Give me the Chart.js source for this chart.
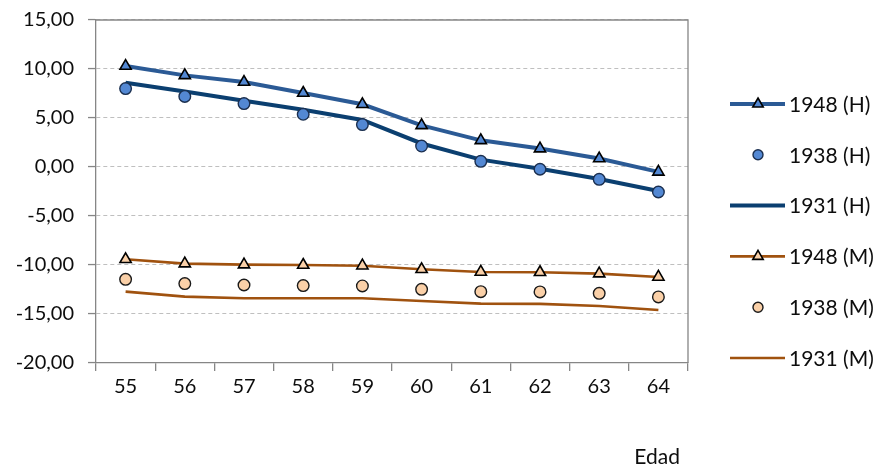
<!DOCTYPE html>
<html>
<head>
<meta charset="utf-8">
<script src="https://cdn.jsdelivr.net/npm/chart.js@4.4.1/dist/chart.umd.min.js"></script>
<style>
  html, body { margin: 0; padding: 0; background: #ffffff; }
  #wrap { width: 879px; height: 467px; }
</style>
</head>
<body>
<div id="wrap"><canvas id="c" width="879" height="467"></canvas></div>
<script>
const categories = ['55', '56', '57', '58', '59', '60', '61', '62', '63', '64'];
const seriesNames = ['1948 (H)', '1938 (H)', '1931 (H)', '1948 (M)', '1938 (M)', '1931 (M)'];
const h1948 = [10.3, 9.35, 8.67, 7.55, 6.4, 4.25, 2.72, 1.88, 0.86, -0.5];
const h1938 = [8.0, 7.2, 6.47, 5.38, 4.33, 2.14, 0.58, -0.23, -1.26, -2.55];
const h1931 = [8.6, 7.7, 6.75, 5.85, 4.8, 2.4, 0.75, -0.17, -1.22, -2.45];
const m1948 = [-9.42, -9.86, -9.96, -10.0, -10.07, -10.44, -10.71, -10.74, -10.88, -11.22];
const m1938 = [-11.46, -11.9, -12.04, -12.1, -12.14, -12.48, -12.72, -12.75, -12.89, -13.26];
const m1931 = [-12.72, -13.23, -13.4, -13.4, -13.4, -13.67, -13.94, -13.97, -14.18, -14.59];
const yTicks = [15, 10, 5, 0, -5, -10, -15, -20];
const xTitle = 'Edad';

const FONT = 'Lato, "Liberation Sans", sans-serif';
const BLUE_LINE = '#2B5A95';
const BLUE_DARK = '#0B3F70';
const BLUE_FILL = '#5388D3';
const BROWN = '#A0520F';
const PEACH = '#FAD0A8';
const AXIS = '#868686';
const TEXT = '#0d0d0d';

const datasets = [
  { label: seriesNames[0], data: h1948, borderColor: BLUE_LINE, borderWidth: 4,
    pointStyle: 'triangle', pointRadius: 6.5, pointBackgroundColor: BLUE_FILL,
    pointBorderColor: '#000000', pointBorderWidth: 1.6, showLine: true },
  { label: seriesNames[1], data: h1938, borderColor: '#1B365D', showLine: false,
    pointStyle: 'circle', pointRadius: 5.8, pointBackgroundColor: BLUE_FILL,
    pointBorderColor: '#1B2F4F', pointBorderWidth: 1.4 },
  { label: seriesNames[2], data: h1931, borderColor: BLUE_DARK, borderWidth: 4,
    pointRadius: 0, showLine: true },
  { label: seriesNames[3], data: m1948, borderColor: BROWN, borderWidth: 2.6,
    pointStyle: 'triangle', pointRadius: 6.5, pointBackgroundColor: PEACH,
    pointBorderColor: '#000000', pointBorderWidth: 1.6, showLine: true },
  { label: seriesNames[4], data: m1938, borderColor: '#000000', showLine: false,
    pointStyle: 'circle', pointRadius: 5.8, pointBackgroundColor: PEACH,
    pointBorderColor: '#1a1a1a', pointBorderWidth: 1.4 },
  { label: seriesNames[5], data: m1931, borderColor: BROWN, borderWidth: 2.6,
    pointRadius: 0, showLine: true }
];
datasets.forEach(d => { d.tension = 0; d.fill = false; d.pointHoverRadius = d.pointRadius; });

const decor = {
  id: 'decor',
  beforeDatasetsDraw(chart) {
    const { ctx, chartArea: a } = chart;
    ctx.save();
    ctx.strokeStyle = AXIS;
    ctx.lineWidth = 1.3;
    ctx.setLineDash([]);
    ctx.beginPath();
    ctx.moveTo(a.left, a.top);
    ctx.lineTo(a.right, a.top);
    ctx.lineTo(a.right, a.bottom);
    ctx.stroke();
    ctx.restore();
  },
  afterDraw(chart) {
    const { ctx } = chart;
    ctx.save();
    const x0 = 730, x1 = 785, xm = 758, xt = 789;
    chart.data.datasets.forEach((d, i) => {
      const y = 104 + 50.8 * i;
      if (d.showLine) {
        ctx.strokeStyle = d.borderColor;
        ctx.lineWidth = d.borderWidth;
        ctx.setLineDash([]);
        ctx.beginPath();
        ctx.moveTo(x0, y);
        ctx.lineTo(x1, y);
        ctx.stroke();
      }
      if (d.pointRadius > 0) {
        ctx.fillStyle = d.pointBackgroundColor;
        ctx.strokeStyle = d.pointBorderColor;
        ctx.lineWidth = d.pointBorderWidth;
        Chart.helpers.drawPoint(ctx, {
          pointStyle: d.pointStyle, rotation: 0,
          radius: d.pointStyle === 'circle' ? 5 : 6, borderWidth: d.pointBorderWidth
        }, xm, y);
      }
      ctx.fillStyle = TEXT;
      ctx.font = '21px ' + FONT;
      ctx.textAlign = 'left';
      ctx.textBaseline = 'middle';
      ctx.fillText(d.label, xt, y + 1);
    });
    ctx.font = '21px ' + FONT;
    ctx.textAlign = 'right';
    ctx.textBaseline = 'middle';
    ctx.fillStyle = TEXT;
    ctx.fillText(xTitle, 680, 457);
    ctx.restore();
  }
};

new Chart(document.getElementById('c'), {
  type: 'line',
  data: { labels: categories, datasets },
  options: {
    responsive: false,
    animation: false,
    events: [],
    layout: { padding: { top: 20, right: 191, left: 0, bottom: 0 } },
    plugins: { legend: { display: false }, tooltip: { enabled: false } },
    scales: {
      x: {
        type: 'category',
        offset: true,
        grid: { display: true, drawOnChartArea: false, drawTicks: true, tickLength: 8,
                color: AXIS, tickColor: AXIS, offset: true, lineWidth: 1.3 },
        border: { display: true, color: AXIS, width: 1.3 },
        ticks: { color: TEXT, font: { family: FONT, size: 20 }, padding: 4,
                 maxRotation: 0, autoSkip: false },
        afterFit(s) { s.height = 104; s.paddingLeft = 0; s.paddingRight = 0; }
      },
      y: {
        min: -20, max: 15,
        afterBuildTicks(s) { s.ticks = yTicks.map(v => ({ value: v })); },
        grid: { color: '#BFBFBF', lineWidth: 1.1, tickColor: AXIS, tickLength: 8,
                drawTicks: true, tickWidth: 1.3 },
        border: { display: true, color: AXIS, width: 1.3, dash: [4, 3] },
        ticks: { color: TEXT, font: { family: FONT, size: 20 }, padding: 14,
                 callback: v => Number(v).toFixed(2).replace('.', ',') },
        afterFit(s) { s.width = 96; s.paddingTop = 0; s.paddingBottom = 0; }
      }
    }
  },
  plugins: [decor]
});
</script>
</body>
</html>
